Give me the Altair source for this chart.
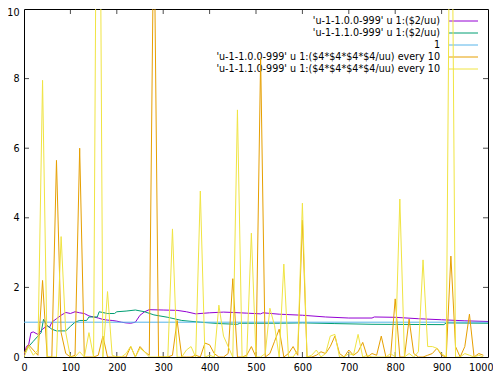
import altair as alt
import pandas as pd

W, H = 464, 348
FONT = "DejaVu Sans"
FS = 9.6

# ---- data -------------------------------------------------------------
x_every10 = list(range(0, 1000, 10))

orange_vals = [0.1, 0.35, 0.2, 0.05, 2.2, 0.0, 0.0, 5.65, 0.7, 0.1,
               0.0, 0.05, 6.0, 0.0, 0.0, 0.0, 0.05, 0.6, 0.0, 0.0,
               0.0, 0.0, 0.0, 0.3, 0.0, 0.3, 0.15, 0.05, 13.0, 0.0,
               0.0, 0.0, 0.05, 1.05, 0.0, 0.0, 0.0, 0.05, 0.0, 0.4,
               0.35, 0.1, 0.0, 0.0, 0.1, 2.25, 0.0, 0.0, 0.05, 0.3,
               0.0, 8.6, 0.0, 0.1, 0.45, 0.8, 0.0, 0.1, 0.3, 0.05,
               3.93, 0.0, 0.0, 0.05, 0.15, 0.1, 0.3, 0.6, 0.1, 0.0,
               0.2, 0.05, 0.15, 0.42, 0.0, 0.1, 0.05, 0.6, 0.0, 0.0,
               1.67, 0.0, 0.0, 1.09, 0.1, 0.0, 0.0, 0.05, 0.1, 0.25,
               0.05, 0.0, 2.9, 0.3, 0.0, 0.3, 1.23, 0.0, 0.1, 0.05]

yellow_vals = [0.0, 0.3, 0.05, 0.2, 7.95, 0.0, 0.0, 0.0, 3.46, 0.7,
               0.0, 0.0, 0.15, 0.0, 0.7, 0.0, 23.0, 0.0, 1.88, 0.05,
               0.0, 0.0, 0.1, 0.31, 0.0, 0.25, 0.15, 0.0, 0.0, 0.0,
               0.0, 0.0, 3.68, 0.0, 0.0, 0.2, 0.3, 0.0, 4.77, 0.0,
               0.05, 0.0, 1.49, 0.6, 0.3, 0.0, 7.1, 0.0, 0.0, 3.56,
               0.0, 0.0, 0.1, 1.4, 0.9, 0.0, 2.67, 0.0, 0.0, 0.2,
               4.42, 0.0, 0.05, 0.2, 0.0, 0.1, 0.6, 0.65, 0.0, 0.0,
               0.1, 0.05, 0.65, 0.0, 0.05, 0.0, 0.0, 0.0, 0.0, 0.1,
               0.0, 4.54, 0.0, 0.1, 0.0, 0.15, 2.79, 0.3, 0.3, 0.25,
               0.1, 0.0, 17.6, 0.0, 0.0, 0.1, 0.05, 0.0, 0.05, 0.0]

purple_x = [0, 5, 10, 15, 20, 30, 40, 50, 55, 60, 70, 80, 90, 100, 110, 120,
            130, 140, 150, 160, 170, 180, 190, 200, 210, 220, 230, 240, 250,
            260, 270, 300, 330, 350, 370, 400, 430, 450, 480, 510, 515, 550,
            600, 650, 700, 750, 755, 800, 850, 900, 950, 1000]
purple_y = [0.05, 0.3, 0.35, 0.7, 0.72, 0.65, 0.8, 0.9, 0.85, 1.0, 1.1, 1.2,
            1.28, 1.25, 1.3, 1.27, 1.25, 1.18, 1.15, 1.12, 1.08, 1.06, 1.05,
            1.03, 1.0, 0.98, 0.97, 1.0, 1.2, 1.3, 1.36, 1.35, 1.34, 1.3, 1.24,
            1.27, 1.29, 1.28, 1.26, 1.24, 1.27, 1.23, 1.2, 1.15, 1.12, 1.12,
            1.15, 1.14, 1.1, 1.07, 1.04, 1.02]

green_x = [0, 10, 20, 30, 37, 42, 50, 60, 70, 90, 100, 110, 120, 135, 140,
           158, 162, 180, 195, 200, 220, 240, 260, 280, 310, 340, 380, 420,
           460, 465, 550, 600, 670, 750, 905, 910, 1000]
green_y = [0.1, 0.3, 0.45, 0.6, 0.7, 1.08, 0.9, 0.8, 0.75, 0.75, 0.88, 1.0,
           1.05, 1.05, 1.15, 1.15, 1.3, 1.25, 1.25, 1.3, 1.32, 1.35, 1.3,
           1.21, 1.14, 1.05, 1.0, 0.96, 0.94, 0.97, 0.97, 0.98, 0.96, 0.94,
           0.93, 0.98, 0.97]

one_x = [0, 1000]
one_y = [1, 1]

x_ticks = list(range(0, 1001, 100))
y_ticks = [0, 2, 4, 6, 8, 10]

legend_labels = [
    "'u-1-1.0.0-999' u 1:($2/uu)",
    "'u-1-1.1.0-999' u 1:($2/uu)",
    "1",
    "'u-1-1.0.0-999' u 1:($4*$4*$4*$4/uu) every 10",
    "'u-1-1.1.0-999' u 1:($4*$4*$4*$4/uu) every 10",
]
colors = ["#9400d3", "#009e73", "#56b4e9", "#e69f00", "#f0e442"]

# ---- chart ------------------------------------------------------------
xs = alt.Scale(domain=[0, 1000], nice=False, zero=False)
ys = alt.Scale(domain=[0, 10], nice=False, zero=False)

x_axis = alt.Axis(values=x_ticks, format="d", ticks=False, domain=False, grid=False,
                  labelFont=FONT, labelFontSize=FS, labelColor="black",
                  labelPadding=5, labelFlush=False, title=None,
                  labelAlign={"condition": {"test": "datum.value === 1000", "value": "right"},
                              "value": "center"},
                  labelOffset={"condition": {"test": "datum.value === 1000", "value": 5},
                               "value": 0})
y_axis = alt.Axis(values=y_ticks, format="d", ticks=False, domain=False, grid=False,
                  labelFont=FONT, labelFontSize=FS, labelColor="black",
                  labelPadding=5, labelFlush=False, title=None,
                  labelBaseline={"condition": {"test": "datum.value === 10", "value": "top"},
                                 "value": "middle"},
                  labelOffset={"condition": {"test": "datum.value === 10", "value": -1.5},
                               "value": 0})

X = lambda f: alt.X(f, scale=xs, axis=x_axis)
Y = lambda f: alt.Y(f, scale=ys, axis=y_axis)

xt = pd.DataFrame({"x": x_ticks[1:-1]})
yt = pd.DataFrame({"y": y_ticks[1:-1]})

tick_layers = []
for yv in (H - 2.5, 2.5):
    tick_layers.append(alt.Chart(xt).mark_tick(color="black", size=5, thickness=1).encode(
        x=X("x:Q"), y=alt.value(yv)))
for xv in (2.5, W - 2.5):
    tick_layers.append(alt.Chart(yt).mark_tick(color="black", size=5, thickness=1).encode(
        y=Y("y:Q"), x=alt.value(xv)))


def series(xv, yv, color):
    df = pd.DataFrame({"x": xv, "y": yv})
    return alt.Chart(df).mark_line(color=color, strokeWidth=1, clip=True).encode(
        x=X("x:Q"), y=Y("y:Q"))


lines = [
    series(purple_x, purple_y, colors[0]),
    series(green_x, green_y, colors[1]),
    series(one_x, one_y, colors[2]),
    series(x_every10, orange_vals, colors[3]),
    series(x_every10, yellow_vals, colors[4]),
]

legend_layers = []
for i, (lab, col) in enumerate(zip(legend_labels, colors)):
    ypix = 12 + 12 * i
    d = pd.DataFrame({"t": [lab]})
    legend_layers.append(alt.Chart(d).mark_text(
        align="right", baseline="middle", font=FONT, fontSize=FS, color="black"
    ).encode(x=alt.value(416), y=alt.value(ypix), text="t:N"))
    legend_layers.append(alt.Chart(d).mark_rule(color=col, strokeWidth=1).encode(
        x=alt.value(425), x2=alt.value(454), y=alt.value(ypix)))

chart = alt.layer(*tick_layers, *legend_layers, *lines).properties(
    width=W, height=H,
    autosize=alt.AutoSizeParams(type="none"),
    padding={"left": 16, "top": 1, "right": 5, "bottom": 16},
    background="white",
).configure_view(stroke="black", strokeWidth=1)

chart.save("out.html", embed_options={"renderer": "svg", "actions": False})
